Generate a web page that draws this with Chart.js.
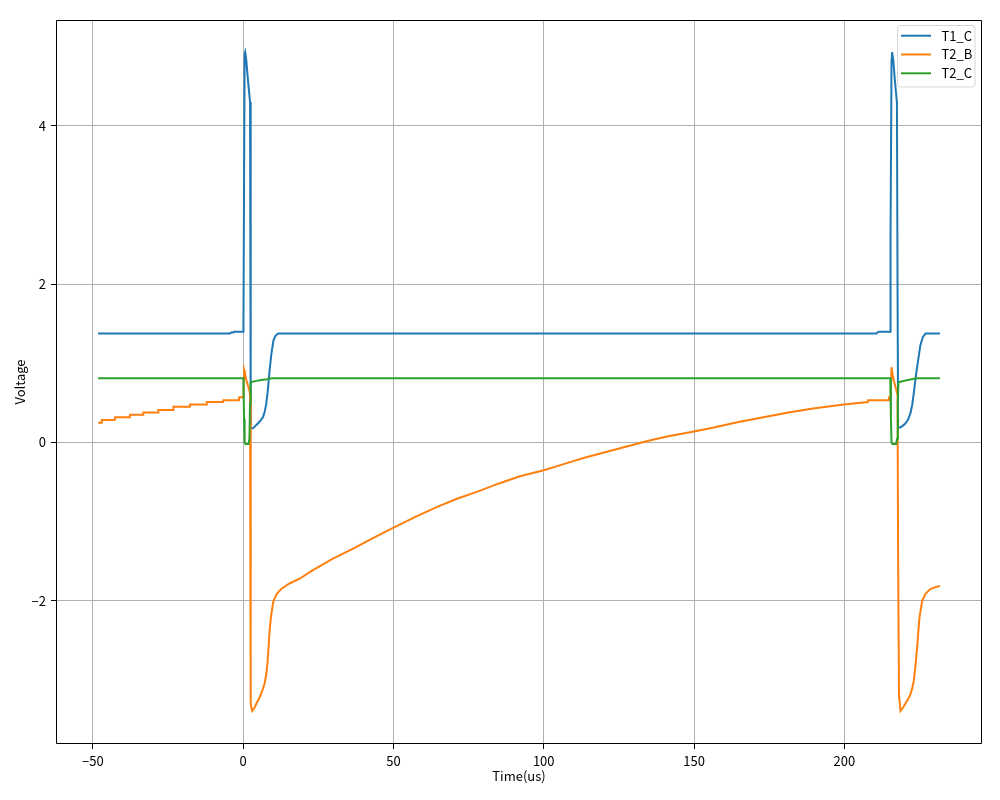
<!DOCTYPE html>
<html><head><meta charset="utf-8">
<style>html,body{margin:0;padding:0;background:#fff;}#wrap{width:1000px;height:800px;position:relative;}</style>
<script src="https://cdn.jsdelivr.net/npm/chart.js@4.4.1/dist/chart.umd.min.js"></script>
</head><body><div id="wrap"><canvas id="c" width="1000" height="800"></canvas></div>
<script>
const seriesNames = ['T1_C', 'T2_B', 'T2_C'];
const seriesColors = ['#1f77b4', '#ff7f0e', '#2ca02c'];
const xTicks = [-50, 0, 50, 100, 150, 200];
const yTicks = [-2, 0, 2, 4];
const xTitle = 'Time(us)';
const yTitle = 'Voltage';

const T1_C = [
  [-48.25,1.375],[-4.3,1.375],[-4.0,1.39],[-3.2,1.39],[-3.0,1.40],[0.1,1.40],[0.5,4.90],[0.7,4.93],
  [1.0,4.85],[1.5,4.62],[2.0,4.42],[2.3,4.30],[2.45,2.0],[2.6,0.18],[3.3,0.18],[4.1,0.21],[4.9,0.24],[5.8,0.28],
  [6.6,0.32],[7.2,0.39],[7.7,0.49],[8.2,0.65],[8.8,0.91],[9.4,1.12],[10.1,1.29],[10.8,1.35],[11.6,1.375],
  [210.7,1.375],[211.0,1.39],[211.6,1.40],[215.2,1.40],[215.3,2.55],[215.45,2.6],[215.7,4.8],[215.9,4.93],
  [216.3,4.82],[216.8,4.58],[217.5,4.29],[217.7,2.0],[217.9,0.19],[218.6,0.19],[219.4,0.21],[220.3,0.24],
  [221.2,0.29],[222.0,0.37],[222.6,0.48],[223.1,0.62],[223.6,0.78],[224.2,0.95],[224.8,1.10],[225.3,1.23],
  [226.1,1.33],[227.0,1.375],[231.8,1.375]
];

const T2_B = [
  [-48.25,0.25],[-47.1,0.25],[-47.0,0.285],[-42.7,0.285],[-42.6,0.32],[-37.7,0.32],[-37.6,0.35],[-33.3,0.35],
  [-33.2,0.38],[-28.3,0.38],[-28.2,0.41],[-23.3,0.41],[-23.2,0.45],[-17.8,0.45],[-17.7,0.48],[-12.2,0.48],
  [-12.1,0.51],[-6.7,0.51],[-6.6,0.535],[-1.4,0.535],[-1.3,0.57],[0.1,0.57],
  [0.35,0.91],[0.6,0.87],[1.0,0.80],[1.6,0.72],[2.1,0.66],[2.3,0.60],[2.45,-1.5],[2.6,-3.3],[3.0,-3.39],
  [3.8,-3.35],[4.6,-3.28],[5.5,-3.22],[6.3,-3.14],[7.1,-3.05],[7.7,-2.93],[8.1,-2.78],[8.4,-2.62],[8.7,-2.44],
  [9.0,-2.30],[9.4,-2.16],[10.1,-2.0],[11.2,-1.91],[12.7,-1.85],[15.4,-1.78],[18.8,-1.72],[22.8,-1.62],[29.7,-1.47],
  [36.6,-1.34],[43.5,-1.20],[49.7,-1.08],[57.3,-0.94],[64.2,-0.82],[71.1,-0.71],[78.0,-0.62],[84.9,-0.52],
  [91.8,-0.43],[100.0,-0.35],[106.9,-0.27],[113.8,-0.19],[120.7,-0.12],[127.6,-0.05],[134.5,0.02],[141.4,0.08],
  [150.0,0.14],[156.6,0.19],[164.8,0.26],[173.1,0.32],[181.4,0.38],[189.6,0.43],[199.8,0.48],[207.8,0.51],
  [207.9,0.535],[214.8,0.535],[214.9,0.57],[215.4,0.57],
  [215.7,0.95],[216.1,0.85],[216.6,0.76],[217.2,0.68],[217.7,0.60],[217.9,-1.5],[218.2,-3.2],[218.7,-3.39],
  [219.5,-3.35],[220.3,-3.30],[221.2,-3.24],[222.0,-3.18],[222.6,-3.10],[223.1,-3.01],[223.6,-2.85],[224.2,-2.59],
  [225.0,-2.21],[225.9,-2.0],[227.0,-1.91],[228.6,-1.85],[230.0,-1.83],[231.8,-1.81]
];

const T2_C = [
  [-48.25,0.81],[0.1,0.81],[0.3,0.3],[0.5,0.0],[0.8,-0.02],[1.8,-0.02],[2.1,0.05],[2.3,0.5],[2.5,0.76],
  [4.0,0.775],[6.0,0.79],[8.0,0.80],[9.5,0.81],[215.3,0.81],[215.5,0.3],[215.7,0.0],[216.0,-0.02],[217.2,-0.02],
  [217.6,0.05],[217.8,0.5],[218.0,0.76],[220.0,0.78],[222.0,0.795],[224.0,0.81],[231.8,0.81]
];

const seriesData = [T1_C, T2_B, T2_C];
const FONT = '"Noto Sans CJK SC", "Noto Sans", sans-serif';
const fmt = v => (v < 0 ? '\u2212' + Math.abs(v) : String(v));

const framePlugin = {
  id: 'frame',
  afterDatasetsDraw(chart) {
    const {ctx, chartArea: a} = chart;
    ctx.save();
    ctx.strokeStyle = '#000';
    ctx.lineWidth = 1;
    const L = Math.round(a.left) + 0.5, T = Math.round(a.top) + 0.5;
    const R = Math.round(a.right) - 0.5, B = Math.round(a.bottom) - 0.5;
    ctx.beginPath();
    ctx.moveTo(L, T); ctx.lineTo(R, T); ctx.lineTo(R, B); ctx.lineTo(L, B); ctx.closePath();
    ctx.stroke();
    // legend
    const lx = 897.5, ly = 25.5, lw = 77.5, lh = 61.5, r = 3;
    ctx.beginPath();
    ctx.moveTo(lx + r, ly);
    ctx.lineTo(lx + lw - r, ly); ctx.quadraticCurveTo(lx + lw, ly, lx + lw, ly + r);
    ctx.lineTo(lx + lw, ly + lh - r); ctx.quadraticCurveTo(lx + lw, ly + lh, lx + lw - r, ly + lh);
    ctx.lineTo(lx + r, ly + lh); ctx.quadraticCurveTo(lx, ly + lh, lx, ly + lh - r);
    ctx.lineTo(lx, ly + r); ctx.quadraticCurveTo(lx, ly, lx + r, ly);
    ctx.closePath();
    ctx.fillStyle = 'rgba(255,255,255,0.8)';
    ctx.fill();
    ctx.strokeStyle = 'rgba(204,204,204,0.8)';
    ctx.stroke();
    chart.data.datasets.forEach((ds, i) => {
      const y = 35.7 + i * 18.8;
      ctx.beginPath();
      ctx.strokeStyle = ds.borderColor;
      ctx.lineWidth = 2;
      ctx.moveTo(901, y); ctx.lineTo(931, y);
      ctx.stroke();
      ctx.fillStyle = '#000';
      ctx.font = '13px ' + FONT;
      ctx.textBaseline = 'middle';
      ctx.textAlign = 'left';
      ctx.fillText(ds.label, 941.5, y);
    });
    ctx.restore();
  }
};

new Chart(document.getElementById('c'), {
  type: 'line',
  data: {
    datasets: seriesNames.map((n, i) => ({
      label: n,
      data: seriesData[i].map(p => ({x: p[0], y: p[1]})),
      borderColor: seriesColors[i],
      backgroundColor: seriesColors[i],
      borderWidth: 2,
      pointRadius: 0,
      tension: 0,
      fill: false,
      order: 3 - i
    }))
  },
  options: {
    responsive: false,
    animation: false,
    devicePixelRatio: 1,
    layout: {padding: {top: 20, right: 18, left: 0, bottom: 0}},
    plugins: {legend: {display: false}, tooltip: {enabled: false}},
    scales: {
      x: {
        type: 'linear', min: -62.25, max: 245.8,
        afterBuildTicks: s => { s.ticks = xTicks.map(v => ({value: v})); },
        afterFit: s => { s.height = 56; },
        ticks: {color: '#000', font: {family: FONT, size: 13}, padding: 4, maxRotation: 0, autoSkip: false, callback: v => fmt(v)},
        grid: {color: '#b0b0b0', lineWidth: 1, tickColor: '#000', tickLength: 5, drawTicks: true},
        border: {display: false},
        title: {display: true, text: xTitle, color: '#000', font: {family: FONT, size: 13}, padding: {top: 0, bottom: 16}}
      },
      y: {
        type: 'linear', min: -3.807, max: 5.335,
        afterBuildTicks: s => { s.ticks = yTicks.map(v => ({value: v})); },
        afterFit: s => { s.width = 56; },
        ticks: {color: '#000', font: {family: FONT, size: 13}, padding: 5, autoSkip: false, callback: v => fmt(v)},
        grid: {color: '#b0b0b0', lineWidth: 1, tickColor: '#000', tickLength: 5, drawTicks: true},
        border: {display: false},
        title: {display: true, text: yTitle, color: '#000', font: {family: FONT, size: 13}, padding: {top: 12, bottom: 0}}
      }
    }
  },
  plugins: [framePlugin]
});
</script></body></html>
